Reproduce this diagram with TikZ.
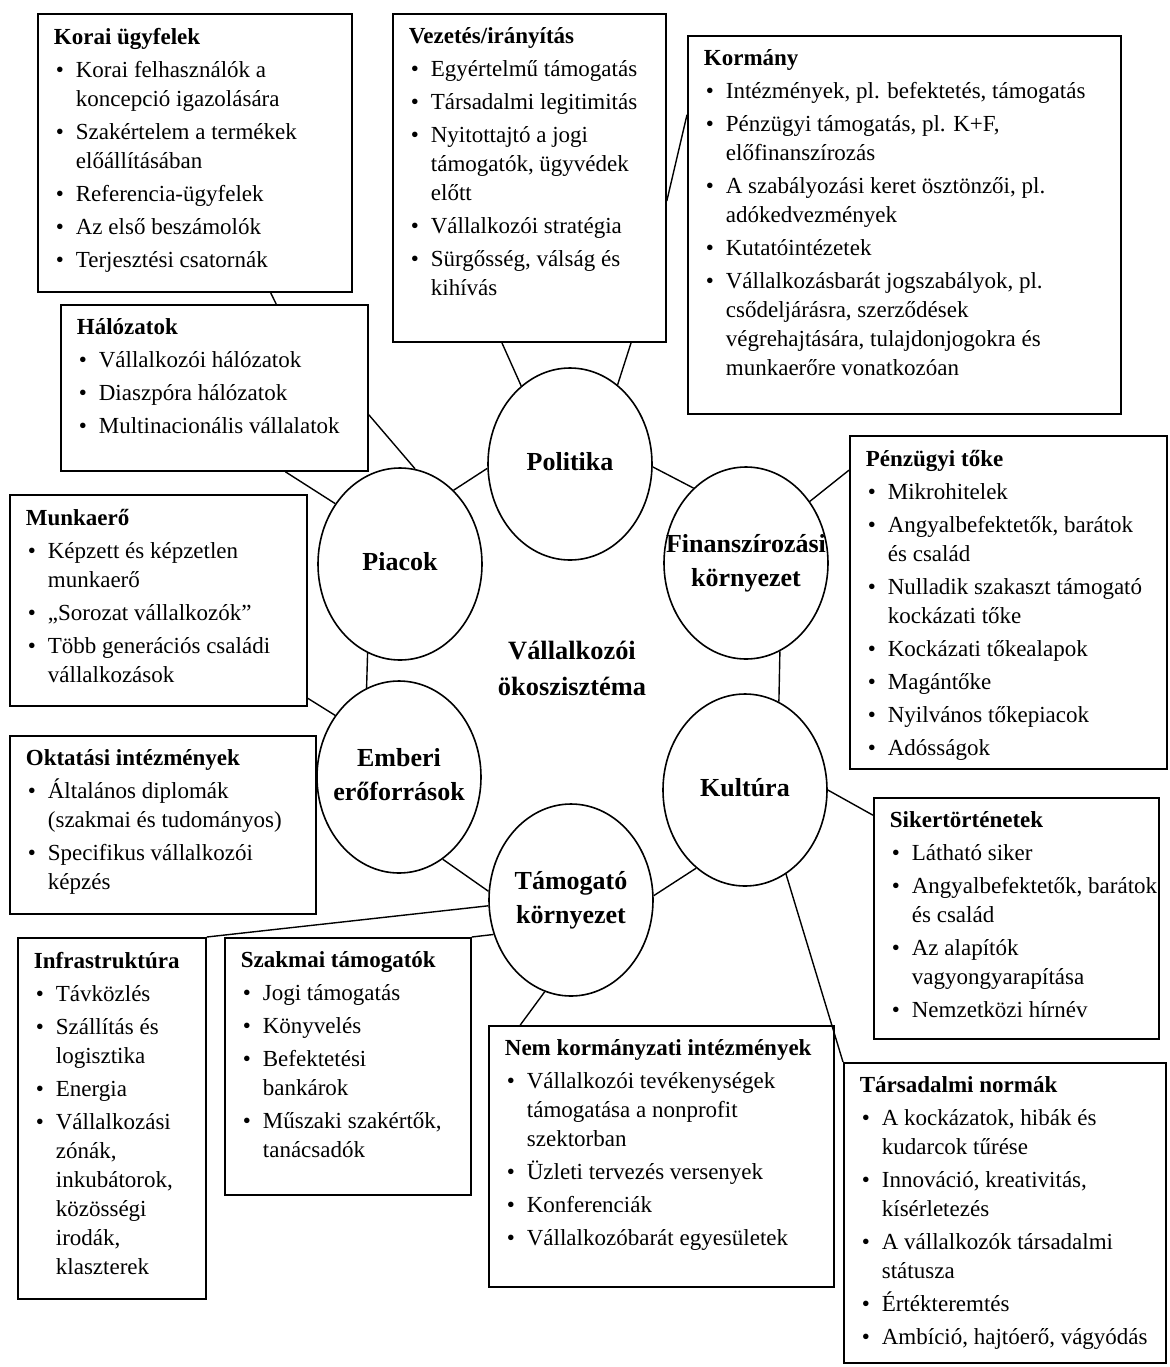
\documentclass[tikz,border=0pt]{standalone}
\usepackage{fontspec}
\setmainfont{Liberation Serif}
\usetikzlibrary{calc, shapes.geometric}
\tikzset{
  ecofig/.style={x=0.5pt, y=-0.5pt},
  infobox/.style={draw, line width=0.9pt, anchor=north west, inner xsep=8pt, inner ysep=7pt,
    font=\fontsize{11.5}{14.5}\selectfont},
  pillar/.style={draw, ellipse, line width=0.8pt, minimum width=82pt, minimum height=96pt,
    inner sep=0pt, font=\bfseries\fontsize{13}{17}\selectfont},
  hub/.style={align=center, font=\bfseries\fontsize{13.2}{18}\selectfont},
  link/.style={line width=0.7pt},
}
\newlength{\BulInd}
\setlength{\BulInd}{11pt}
\newcommand{\itm}{\par\hangindent=\BulInd\hangafter=1\noindent\hbox to\BulInd{\hspace{1pt}\textbullet\hss}}
% box body: width and height of the frame in px, then the text
\newcommand{\boxbody}[3]{\makebox[\dimexpr #1pt/2-16pt\relax][l]{%
  \parbox[t][\dimexpr #2pt/2-14pt\relax][t]{\dimexpr #1pt/2+14pt\relax}{%
    \raggedright\let\\\newline\setlength{\parskip}{2pt}#3}}}
\newcommand{\pillartext}[1]{\makebox[0pt]{\begin{tabular}{@{}c@{}}#1\end{tabular}}}

\begin{document}
\begin{tikzpicture}[ecofig]
  % ----- canvas (px of the source, y downwards) -----
  \path[use as bounding box, fill=white] (0,0) rectangle (1169,1367);

  % ----- hub and the six pillars -----
  \node[hub] (eco) at (572,668) {Vállalkozói\\ökoszisztéma};
  \node[pillar] (politika) at (570,464) {\pillartext{Politika}};
  \node[pillar] (piacok)   at (400,564) {\pillartext{Piacok}};
  \node[pillar] (finansz)  at (746,563) {\pillartext{Finanszírozási\\környezet}};
  \node[pillar] (emberi)   at (399,777) {\pillartext{Emberi\\erőforrások}};
  \node[pillar] (kultura)  at (745,790) {\pillartext{Kultúra}};
  \node[pillar] (tamogato) at (571,900) {\pillartext{Támogató\\környezet}};

  % ----- boxes, top row -----
  \node[infobox] (korai) at (37,13) {\boxbody{314}{278}{\textbf{Korai ügyfelek}
    \itm Korai felhasználók a\\koncepció igazolására
    \itm Szakértelem a termékek\\előállításában
    \itm Referencia-ügyfelek
    \itm Az első beszámolók
    \itm Terjesztési csatornák}};
  \node[infobox] (vezetes) at (392,13) {\boxbody{273}{328}{\textbf{Vezetés/irányítás}
    \itm Egyértelmű támogatás
    \itm Társadalmi legitimitás
    \itm Nyitottajtó a jogi\\támogatók, ügyvédek\\előtt
    \itm Vállalkozói stratégia
    \itm Sürgősség, válság és\\kihívás}};
  \node[infobox] (kormany) at (687,35) {\boxbody{433}{378}{\textbf{Kormány}
    \itm Intézmények, pl. befektetés, támogatás
    \itm Pénzügyi támogatás, pl. K+F,\\előfinanszírozás
    \itm A szabályozási keret ösztönzői, pl.\\adókedvezmények
    \itm Kutatóintézetek
    \itm Vállalkozásbarát jogszabályok, pl.\\csődeljárásra, szerződések\\végrehajtására, tulajdonjogokra és\\munkaerőre vonatkozóan}};

  % ----- boxes, left side -----
  \node[infobox] (halozatok) at (60,304) {\boxbody{307}{166}{\textbf{Hálózatok}
    \itm Vállalkozói hálózatok
    \itm Diaszpóra hálózatok
    \itm Multinacionális vállalatok}};
  \node[infobox] (munkaero) at (9,494) {\boxbody{297}{211}{\textbf{Munkaerő}
    \itm Képzett és képzetlen\\munkaerő
    \itm „Sorozat vállalkozók”
    \itm Több generációs családi\\vállalkozások}};
  \node[infobox] (oktatas) at (9,735) {\boxbody{306}{178}{\textbf{Oktatási intézmények}
    \itm Általános diplomák\\(szakmai és tudományos)
    \itm Specifikus vállalkozói\\képzés}};

  % ----- boxes, right side -----
  \node[infobox] (penzugy) at (849,435) {\boxbody{317}{333}{\textbf{Pénzügyi tőke}
    \itm Mikrohitelek
    \itm Angyalbefektetők, barátok\\és család
    \itm Nulladik szakaszt támogató\\kockázati tőke
    \itm Kockázati tőkealapok
    \itm Magántőke
    \itm Nyilvános tőkepiacok
    \itm Adósságok}};
  \node[infobox] (siker) at (873,797) {\boxbody{285}{241}{\textbf{Sikertörténetek}
    \itm Látható siker
    \itm Angyalbefektetők, barátok\\és család
    \itm Az alapítók\\vagyongyarapítása
    \itm Nemzetközi hírnév}};

  % ----- boxes, bottom row -----
  \node[infobox] (infra) at (17,937) {\boxbody{188}{361}{\textbf{Infrastruktúra}
    \itm Távközlés
    \itm Szállítás és\\logisztika
    \itm Energia
    \itm Vállalkozási\\zónák,\\inkubátorok,\\közösségi\\irodák,\\klaszterek}};
  \node[infobox] (szakmai) at (224,937) {\boxbody{246}{257}{\textbf{Szakmai támogatók}
    \itm Jogi támogatás
    \itm Könyvelés
    \itm Befektetési\\bankárok
    \itm Műszaki szakértők,\\tanácsadók}};
  \node[infobox] (nemkorm) at (488,1025) {\boxbody{345}{261}{\textbf{Nem kormányzati intézmények}
    \itm Vállalkozói tevékenységek\\támogatása a nonprofit\\szektorban
    \itm Üzleti tervezés versenyek
    \itm Konferenciák
    \itm Vállalkozóbarát egyesületek}};
  \node[infobox] (normak) at (843,1062) {\boxbody{322}{300}{\textbf{Társadalmi normák}
    \itm A kockázatok, hibák és\\kudarcok tűrése
    \itm Innováció, kreativitás,\\kísérletezés
    \itm A vállalkozók társadalmi\\státusza
    \itm Értékteremtés
    \itm Ambíció, hajtóerő, vágyódás}};

  % ----- connectors -----
  \draw[link] ($(korai.south west)!0.74!(korai.south east)$) -- ($(halozatok.north west)!0.70!(halozatok.north east)$);
  \draw[link] ($(halozatok.north east)!0.66!(halozatok.south east)$) -- (piacok.81);
  \draw[link] ($(halozatok.south west)!0.73!(halozatok.south east)$) -- (piacok.137);
  \draw[link] (piacok.54) -- (politika.183);
  \draw[link] ($(vezetes.south west)!0.40!(vezetes.south east)$) -- (politika.122);
  \draw[link] ($(vezetes.south west)!0.87!(vezetes.south east)$) -- (politika.59);
  \draw[link] ($(kormany.north west)!0.21!(kormany.south west)$) -- ($(vezetes.north east)!0.57!(vezetes.south east)$);
  \draw[link] (politika.-2) -- (finansz.125);
  \draw[link] (finansz.44) -- ($(penzugy.north west)!0.105!(penzugy.south west)$);
  \draw[link] (finansz.-69) -- (kultura.69);
  \draw[link] (piacok.250) -- (emberi.110);
  \draw[link] ($(munkaero.north east)!0.96!(munkaero.south east)$) -- (emberi.136);
  \draw[link] (emberi.298) -- (tamogato.174);
  \draw[link] (tamogato.184) -- (infra.north east);
  \draw[link] (tamogato.204) -- (szakmai.north east);
  \draw[link] (tamogato.3) -- (kultura.238);
  \draw[link] (tamogato.254) -- ($(nemkorm.north west)!0.093!(nemkorm.north east)$);
  \draw[link] (kultura.east) -- ($(siker.north west)!0.075!(siker.south west)$);
  \draw[link] (kultura.296) -- (normak.north west);
\end{tikzpicture}
\end{document}
